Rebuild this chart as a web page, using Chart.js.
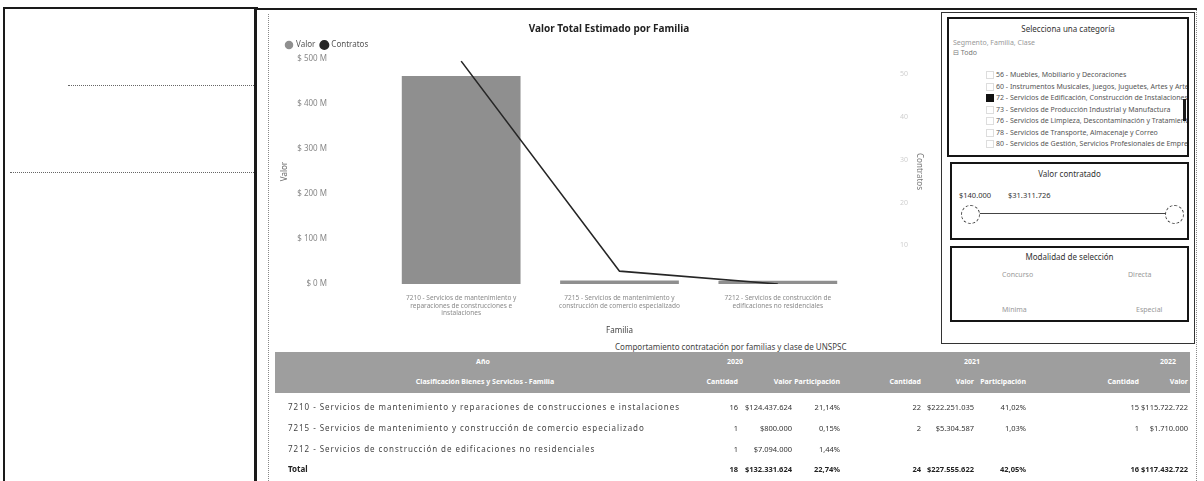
<!DOCTYPE html>
<html lang="es">
<head>
<meta charset="utf-8">
<title>Valor Total Estimado por Familia</title>
<script src="https://cdn.jsdelivr.net/npm/chart.js@4.4.1/dist/chart.umd.min.js"></script>
<style>
  body { margin:0; width:1204px; height:481px; overflow:hidden; background:#fff; position:relative;
         font-family:"Noto Sans", sans-serif; color:#333; }
  .a { position:absolute; }
  .negro { background:#1a1a1a; }
  .punteada-h { border-top:1px dotted #666; height:0; }
  .punteada-v { border-left:1px dotted #888; width:0; }
  .caja { border:2px solid #151515; box-sizing:border-box; }
  .titulo-caja { font-size:8px; color:#333; text-align:center; width:100%; }
  .item { font-size:7px; color:#555; white-space:nowrap; }
  .chk { width:6px; height:6px; border:1px solid #ddd; }
  #tabla div { position:absolute; white-space:nowrap; font-size:7.5px; line-height:10px; }
  #tabla div.enc { color:#fff; font-weight:bold; font-size:7px; }
  .num { text-align:right; }
</style>
</head>
<body>

<!-- panel izquierdo vacío -->
<div class="a negro" style="left:4px;top:7px;width:254px;height:2px"></div>
<div class="a negro" style="left:3px;top:7px;width:2px;height:474px"></div>
<div class="a negro" style="left:254px;top:7px;width:3px;height:474px"></div>
<div class="a punteada-h" style="left:68px;top:85px;width:186px"></div>
<div class="a punteada-h" style="left:10px;top:172px;width:244px"></div>

<!-- marco principal -->
<div class="a negro" style="left:257px;top:8px;width:940px;height:2px"></div>
<div class="a punteada-v" style="left:268px;top:14px;height:467px"></div>
<div class="a punteada-v" style="left:1196px;top:10px;height:471px"></div>

<!-- gráfico -->
<div class="a" style="left:268px;top:14px;width:670px;height:326px">
  <canvas id="grafico"></canvas>
</div>

<!-- segmentadores -->
<div class="a" style="left:941px;top:12px;width:254px;height:332px;border:1px solid #333;box-sizing:border-box"></div>

<div class="a caja" style="left:947px;top:17px;width:242px;height:140px;overflow:hidden">
  <div class="a titulo-caja" style="top:4px">Selecciona una categoría</div>
  <div class="a item" style="left:4px;top:19px;color:#999">Segmento, Familia, Clase</div>
  <div class="a item" style="left:4px;top:29px;color:#777">⊟ Todo</div>
  <div id="lista"></div>
  <div class="a negro" style="left:234px;top:80px;width:3px;height:22px"></div>
</div>

<div class="a caja" style="left:950px;top:162px;width:239px;height:78px">
  <div class="a titulo-caja" style="top:4px">Valor contratado</div>
  <div class="a item" style="left:7px;top:26px;font-size:7.5px;color:#333">$140.000</div>
  <div class="a item" style="left:56px;top:26px;font-size:7.5px;color:#333">$31.311.726</div>
  <div class="a" style="left:20px;top:49px;width:200px;height:1px;background:#444"></div>
  <div class="a" style="left:9px;top:41px;width:17px;height:17px;border:1px dashed #444;border-radius:50%;background:#fff"></div>
  <div class="a" style="left:213px;top:41px;width:17px;height:17px;border:1px dashed #444;border-radius:50%;background:#fff"></div>
</div>

<div class="a caja" style="left:950px;top:246px;width:239px;height:76px">
  <div class="a titulo-caja" style="top:3px">Modalidad de selección</div>
  <div class="a item" style="left:50px;top:22px;color:#999">Concurso</div>
  <div class="a item" style="left:176px;top:22px;color:#999">Directa</div>
  <div class="a item" style="left:50px;top:57px;color:#999">Mínima</div>
  <div class="a item" style="left:184px;top:57px;color:#999">Especial</div>
</div>

<!-- tabla -->
<div class="a" style="left:615px;top:341px;font-size:8px;color:#444;white-space:nowrap">Comportamiento contratación por familias y clase de UNSPSC</div>
<div id="tabla" class="a" style="left:0;top:0;width:1190px;height:481px;overflow:hidden">
  <div style="left:275px;top:352px;width:920px;height:41px;background:#9e9e9e"></div>
</div>

<script>
// ===== Datos =====
const familias = [
  "7210 - Servicios de mantenimiento y reparaciones de construcciones e instalaciones",
  "7215 - Servicios de mantenimiento y construcción de comercio especializado",
  "7212 - Servicios de construcción de edificaciones no residenciales"
];
// gráfico: valor total estimado y número de contratos por familia
const valorFamilia = [462411381, 7814587, 7094000];
const contratosFamilia = [53, 4, 1];
const valorTicks = [0, 100000000, 200000000, 300000000, 400000000, 500000000];
const contratosTicks = [10, 20, 30, 40, 50];

// tabla por año
const anios = ["2020", "2021", "2022"];
const cantidad2020 = [16, 1, 1];
const valor2020 = [124437624, 800000, 7094000];
const participacion2020 = [21.14, 0.15, 1.44];
const cantidad2021 = [22, 2, null];
const valor2021 = [222251035, 5304587, null];
const participacion2021 = [41.02, 1.03, null];
const cantidad2022 = [15, 1, null];
const valor2022 = [115722722, 1710000, null];
const totalCantidad = [18, 24, 16];
const totalValor = [132331624, 227555622, 117432722];
const totalParticipacion = [22.74, 42.05, null];

const segmentos = [
  "56 - Muebles, Mobiliario y Decoraciones",
  "60 - Instrumentos Musicales, Juegos, Juguetes, Artes y Artesanías",
  "72 - Servicios de Edificación, Construcción de Instalaciones y Mantenimiento",
  "73 - Servicios de Producción Industrial y Manufactura",
  "76 - Servicios de Limpieza, Descontaminación y Tratamiento de Residuos",
  "78 - Servicios de Transporte, Almacenaje y Correo",
  "80 - Servicios de Gestión, Servicios Profesionales de Empresa"
];
const segmentoMarcado = 2;

// ===== Utilidades =====
function partirTexto(texto, max) {
  const lineas = [];
  let actual = "";
  texto.split(" ").forEach(p => {
    const prueba = actual ? actual + " " + p : p;
    if (prueba.length > max && actual) { lineas.push(actual); actual = p; }
    else actual = prueba;
  });
  if (actual) lineas.push(actual);
  return lineas;
}
const miles = v => "$" + Math.round(v).toString().replace(/\B(?=(\d{3})+(?!\d))/g, ".");
const pct = v => v.toFixed(2).replace(".", ",") + "%";

// ===== Lista del segmentador =====
const lista = document.getElementById("lista");
segmentos.forEach((s, i) => {
  const y = 51 + i * 11.5;
  const chk = document.createElement("div");
  chk.className = "a chk";
  chk.style.left = "37px"; chk.style.top = (y + 1) + "px";
  if (i === segmentoMarcado) { chk.style.background = "#111"; chk.style.borderColor = "#111"; }
  lista.appendChild(chk);
  const t = document.createElement("div");
  t.className = "a item";
  t.style.left = "47px"; t.style.top = y + "px";
  t.textContent = s;
  lista.appendChild(t);
});

// ===== Tabla =====
const tabla = document.getElementById("tabla");
function celda(texto, x, y, opciones = {}) {
  const d = document.createElement("div");
  d.textContent = texto;
  d.style.top = (y - 5) + "px";
  if (opciones.derecha) { d.style.right = (1190 - x) + "px"; d.className = "num"; }
  else if (opciones.centro) { d.style.left = (x - 60) + "px"; d.style.width = "120px"; d.style.textAlign = "center"; }
  else d.style.left = x + "px";
  if (opciones.clase) d.className += " " + opciones.clase;
  if (opciones.estilo) Object.assign(d.style, opciones.estilo);
  tabla.appendChild(d);
}
const bordes = [738, 792, 840, 921, 974, 1026, 1139, 1188, 1240];
const encabezados = ["Cantidad", "Valor", "Participación"];

celda("Año", 483, 362, { centro: true, clase: "enc" });
[735, 972, 1168].forEach((x, i) => celda(anios[i], x, 362, { centro: true, clase: "enc" }));
celda("Clasificación Bienes y Servicios - Familia", 485, 382, { centro: true, clase: "enc", estilo: { width: "260px", left: "355px" } });
bordes.forEach((x, i) => celda(encabezados[i % 3], x, 382, { derecha: true, clase: "enc" }));

const filasY = [407, 428, 449];
familias.forEach((f, i) => {
  const y = filasY[i];
  celda(f, 288, y, { estilo: { color: "#444", letterSpacing: "0.95px", fontSize: "8px" } });
  const valores = [
    cantidad2020[i], valor2020[i], participacion2020[i],
    cantidad2021[i], valor2021[i], participacion2021[i],
    cantidad2022[i], valor2022[i]
  ];
  valores.forEach((v, k) => {
    if (v === null) return;
    const txt = k % 3 === 1 ? miles(v) : k % 3 === 2 ? pct(v) : String(v);
    celda(txt, bordes[k], y, { derecha: true, estilo: { color: "#333" } });
  });
});
celda("Total", 288, 469, { estilo: { fontWeight: "bold", color: "#222", fontSize: "8px" } });
anios.forEach((a, j) => {
  celda(String(totalCantidad[j]), bordes[j * 3], 469, { derecha: true, estilo: { fontWeight: "bold", color: "#222" } });
  celda(miles(totalValor[j]), bordes[j * 3 + 1], 469, { derecha: true, estilo: { fontWeight: "bold", color: "#222" } });
  if (totalParticipacion[j] !== null)
    celda(pct(totalParticipacion[j]), bordes[j * 3 + 2], 469, { derecha: true, estilo: { fontWeight: "bold", color: "#222" } });
});

// ===== Gráfico =====
Chart.defaults.font.family = "'Noto Sans', sans-serif";
Chart.defaults.animation = false;

// el padding grande de las etiquetas no debe empujar el área del gráfico hacia abajo
function fijarEje(ancho) {
  return s => { s.width = ancho; s.paddingTop = 5; s.paddingBottom = 5; };
}

new Chart(document.getElementById("grafico"), {
  type: "bar",
  data: {
    labels: familias.map(f => partirTexto(f, 40)),
    datasets: [
      {
        type: "line",
        label: "Contratos",
        data: contratosFamilia,
        yAxisID: "y1",
        borderColor: "#262626",
        backgroundColor: "#262626",
        borderWidth: 1.6,
        pointRadius: 0,
        tension: 0
      },
      {
        type: "bar",
        label: "Valor",
        data: valorFamilia,
        yAxisID: "y",
        backgroundColor: "#8f8f8f",
        barPercentage: 0.75,
        categoryPercentage: 1
      }
    ]
  },
  options: {
    responsive: true,
    maintainAspectRatio: false,
    layout: { padding: { left: 12, right: 0, top: 0, bottom: 0 } },
    plugins: {
      title: {
        display: true,
        text: "Valor Total Estimado por Familia",
        color: "#222",
        font: { size: 10, weight: "bold" },
        padding: { top: 9, bottom: 0 }
      },
      legend: {
        position: "top",
        align: "start",
        labels: {
          usePointStyle: true,
          pointStyle: "circle",
          boxWidth: 6,
          boxHeight: 6,
          padding: 6,
          color: "#555",
          font: { size: 8 },
          sort: (a, b) => b.datasetIndex - a.datasetIndex
        }
      },
      tooltip: { enabled: false }
    },
    scales: {
      x: {
        grid: { display: false, drawTicks: false },
        border: { display: false },
        ticks: { color: "#8a8a8a", font: { size: 6.5 }, padding: 10, maxRotation: 0, autoSkip: false },
        title: { display: true, text: "Familia", color: "#444", font: { size: 8 }, padding: { top: 2, bottom: 4 } },
        afterFit: s => { s.height = 56; }
      },
      y: {
        position: "left",
        min: 0,
        max: 500000000,
        grid: { display: false, drawTicks: false },
        border: { display: false },
        afterBuildTicks: s => { s.ticks = valorTicks.map(v => ({ value: v })); },
        ticks: { color: "#888", font: { size: 8 }, padding: 55, callback: v => "$ " + v / 1000000 + " M" },
        title: { display: true, text: "Valor", color: "#666", font: { size: 8 }, padding: { top: 0, bottom: 4 } },
        afterFit: fijarEje(102)
      },
      y1: {
        position: "right",
        min: 1,
        max: 53.5,
        grid: { display: false, drawTicks: false },
        border: { display: false },
        afterBuildTicks: s => { s.ticks = contratosTicks.map(v => ({ value: v })); },
        ticks: { color: "#cfcfcf", font: { size: 7 }, padding: 43 },
        title: { display: true, text: "Contratos", color: "#777", font: { size: 8 }, padding: { top: 14, bottom: 4 } },
        afterFit: fijarEje(81)
      }
    }
  }
});
</script>
</body>
</html>
